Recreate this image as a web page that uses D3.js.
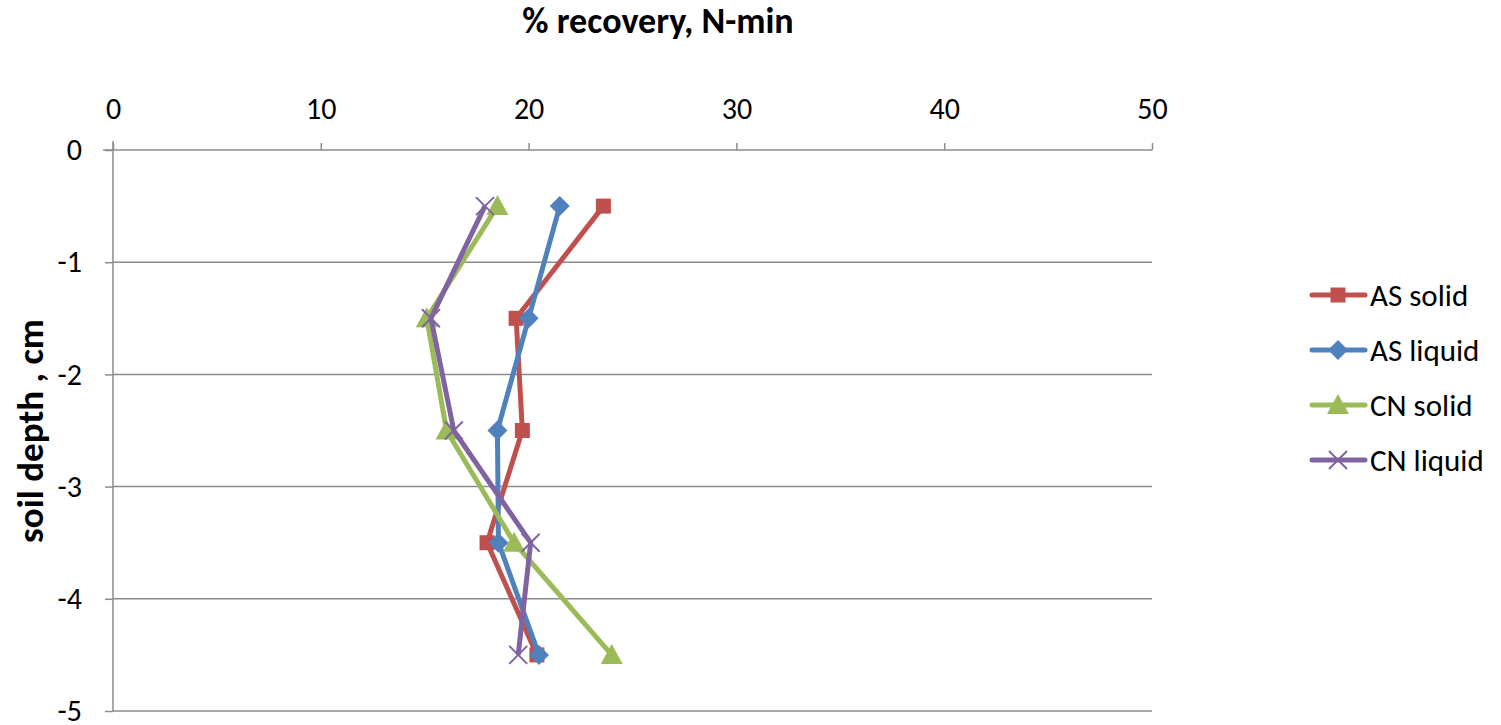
<!DOCTYPE html>
<html>
<head>
<meta charset="utf-8">
<script src="https://cdn.jsdelivr.net/npm/d3@7"></script>
<style>
  html, body { margin: 0; padding: 0; background: #fff; }
  svg text { font-family: Carlito, Calibri, Lato, "Open Sans", sans-serif; fill: #000; }
</style>
</head>
<body>
<svg id="chart" width="1501" height="725"></svg>
<script>
// Soil depth (cm) of each sampled layer midpoint
const depths = [-0.5, -1.5, -2.5, -3.5, -4.5];
// % recovery of N-min per layer
const asSolid  = [23.6, 19.4, 19.7, 18.0, 20.4];
const asLiquid = [21.5, 20.0, 18.5, 18.55, 20.5];
const cnSolid  = [18.5, 15.1, 16.05, 19.3, 24.0];
const cnLiquid = [17.9, 15.3, 16.4, 20.1, 19.5];
const seriesNames = ["AS solid", "AS liquid", "CN solid", "CN liquid"];
const xTicks = [0, 10, 20, 30, 40, 50];
const yTicks = [0, -1, -2, -3, -4, -5];

const colors = ["#C0504D", "#4F81BD", "#9BBB59", "#8064A2"];
const markers = ["square", "diamond", "triangle", "cross"];
const seriesValues = [asSolid, asLiquid, cnSolid, cnLiquid];

const svg = d3.select("#chart");
const plotLeft = 113, plotRight = 1152, plotTop = 150, plotBottom = 711;

const x = d3.scaleLinear().domain([0, 50]).range([plotLeft, plotRight]);
const y = d3.scaleLinear().domain([0, -5]).range([plotTop, plotBottom]);

// Horizontal gridlines
svg.append("g").selectAll("line").data(yTicks.filter(d => d !== 0)).join("line")
  .attr("x1", plotLeft).attr("x2", plotRight)
  .attr("y1", d => y(d)).attr("y2", d => y(d))
  .attr("stroke", "#8c8c8c").attr("stroke-width", 1.5);

// Top value axis
const xAxis = svg.append("g").attr("transform", `translate(0,${plotTop})`)
  .call(d3.axisTop(x).tickValues(xTicks).tickSize(7).tickPadding(24).tickFormat(d3.format("d")));
// Left depth axis
const yAxis = svg.append("g").attr("transform", `translate(${plotLeft},0)`)
  .call(d3.axisLeft(y).tickValues(yTicks).tickSize(8).tickPadding(23).tickFormat(d => d === 0 ? "0" : "-" + Math.abs(d)));

[xAxis, yAxis].forEach(a => {
  a.select(".domain").attr("stroke", "#8c8c8c").attr("stroke-width", 1.5);
  a.selectAll(".tick line").attr("stroke", "#8c8c8c").attr("stroke-width", 1.5);
  a.selectAll(".tick text").attr("font-size", 30).attr("fill", "#000")
    .style("font-family", 'Carlito, Calibri, Lato, "Open Sans", sans-serif');
});
// Let the axis lines run through the origin to meet the opposite ticks
yAxis.select(".domain").attr("d", `M0,${plotTop - 9}V${plotBottom}`);
xAxis.select(".domain").attr("d", `M${plotLeft - 10},0H${plotRight}`);

// Titles
svg.append("text").attr("x", 658).attr("y", 33).attr("text-anchor", "middle")
  .attr("font-size", 36).attr("font-weight", "bold").text("% recovery, N-min");
svg.append("text").attr("transform", `translate(43,431) rotate(-90)`)
  .attr("text-anchor", "middle").attr("font-size", 37).attr("font-weight", "bold")
  .text("soil depth , cm");

function drawMarker(g, type, color) {
  if (type === "square") {
    g.append("rect").attr("x", -7.5).attr("y", -7.5).attr("width", 15).attr("height", 15).attr("fill", color);
  } else if (type === "diamond") {
    g.append("path").attr("d", "M0,-10L10,0L0,10L-10,0Z").attr("fill", color);
  } else if (type === "triangle") {
    g.append("path").attr("d", "M0,-11L11,9L-11,9Z").attr("fill", color);
  } else {
    g.append("path").attr("d", "M-9,-9L9,9M-9,9L9,-9").attr("stroke", color).attr("stroke-width", 2).attr("fill", "none");
  }
}

const line = d3.line().x(d => x(d[0])).y(d => y(d[1]));

seriesValues.forEach((vals, i) => {
  const pts = vals.map((v, j) => [v, depths[j]]);
  svg.append("path").attr("d", line(pts)).attr("fill", "none")
    .attr("stroke", colors[i]).attr("stroke-width", 5).attr("stroke-linejoin", "round");
  pts.forEach(p => {
    const g = svg.append("g").attr("transform", `translate(${x(p[0])},${y(p[1])})`);
    drawMarker(g, markers[i], colors[i]);
  });
});

// Legend
const legend = svg.append("g");
seriesNames.forEach((name, i) => {
  const ly = 295 + i * 55;
  legend.append("line").attr("x1", 1312).attr("x2", 1365).attr("y1", ly).attr("y2", ly)
    .attr("stroke", colors[i]).attr("stroke-width", 5).attr("stroke-linecap", "round");
  const g = legend.append("g").attr("transform", `translate(1338,${ly})`);
  drawMarker(g, markers[i], colors[i]);
  legend.append("text").attr("x", 1370).attr("y", ly + 11).attr("font-size", 31).text(name);
});
</script>
</body>
</html>
